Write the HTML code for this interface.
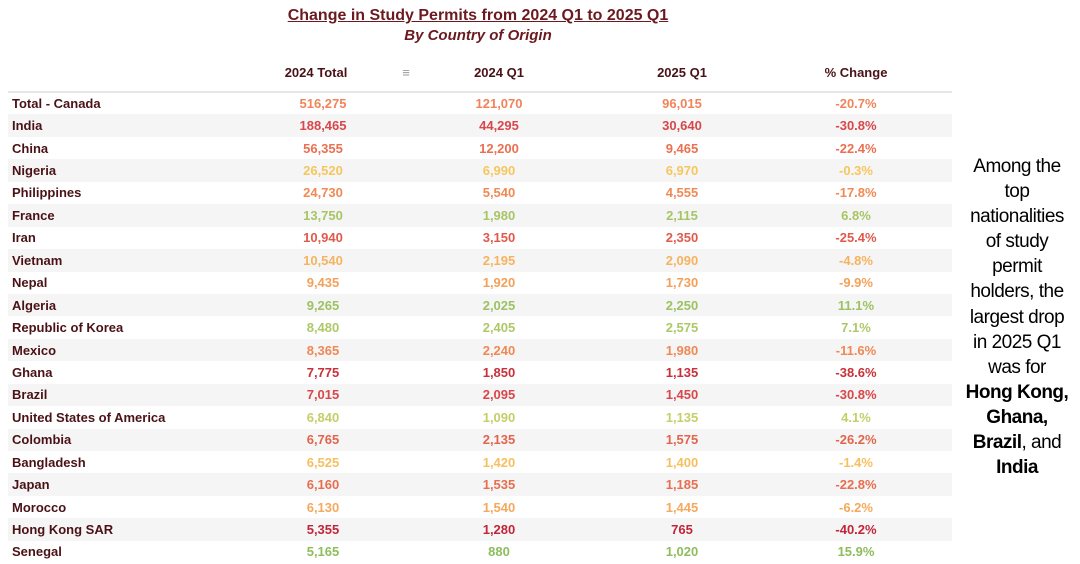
<!DOCTYPE html>
<html><head><style>
body{margin:0;width:1080px;height:564px;background:#fff;position:relative;font-family:"Liberation Sans",sans-serif;overflow:hidden}
.t{position:absolute;left:0;width:956px;text-align:center;color:#6b1a1f;font-weight:bold}
.bg{position:absolute;left:8px;top:92px;width:944px}
.bg div{height:22.45px}
.bg div:nth-child(even){background:#f5f5f5}
table{position:absolute;left:8px;top:92px;width:930px;border-collapse:collapse;font-weight:bold;font-size:13px;table-layout:fixed}
td{height:22.45px;padding:0;text-align:center;white-space:nowrap}
td:first-child{text-align:left;padding-left:4px;color:#4a1216}
.h{position:absolute;top:65px;font-size:13px;font-weight:bold;color:#4a1216;transform:translateX(-50%)}
.side{position:absolute;left:955px;width:124px;top:154px;text-align:center;font-size:19px;line-height:25.1px;color:#000;letter-spacing:-0.5px;white-space:nowrap}
</style></head><body>
<div class="t" style="top:7px;font-size:16px;text-decoration:underline">Change in Study Permits from 2024 Q1 to 2025 Q1</div>
<div class="t" style="top:27px;font-size:15px;font-style:italic">By Country of Origin</div>
<div class="h" style="left:316px">2024 Total</div>
<div class="h" style="left:406px;color:#999;font-weight:normal">&#8801;</div>
<div class="h" style="left:499px">2024 Q1</div>
<div class="h" style="left:682px">2025 Q1</div>
<div class="h" style="left:856px">% Change</div>
<div style="position:absolute;left:8px;top:91px;width:944px;height:2px;background:#e6e6e6"></div>
<div class="bg"><div></div><div></div><div></div><div></div><div></div><div></div><div></div><div></div><div></div><div></div><div></div><div></div><div></div><div></div><div></div><div></div><div></div><div></div><div></div><div></div><div></div></div>
<table>
<colgroup><col style="width:230px"><col style="width:170px"><col style="width:182px"><col style="width:184px"><col style="width:164px"></colgroup>
<tr style="color:#f0845a"><td>Total - Canada</td><td>516,275</td><td>121,070</td><td>96,015</td><td>-20.7%</td></tr>
<tr style="color:#d8474a"><td>India</td><td>188,465</td><td>44,295</td><td>30,640</td><td>-30.8%</td></tr>
<tr style="color:#ea7051"><td>China</td><td>56,355</td><td>12,200</td><td>9,465</td><td>-22.4%</td></tr>
<tr style="color:#f6c65e"><td>Nigeria</td><td>26,520</td><td>6,990</td><td>6,970</td><td>-0.3%</td></tr>
<tr style="color:#ef8a55"><td>Philippines</td><td>24,730</td><td>5,540</td><td>4,555</td><td>-17.8%</td></tr>
<tr style="color:#a8c566"><td>France</td><td>13,750</td><td>1,980</td><td>2,115</td><td>6.8%</td></tr>
<tr style="color:#e05a4c"><td>Iran</td><td>10,940</td><td>3,150</td><td>2,350</td><td>-25.4%</td></tr>
<tr style="color:#f5b35f"><td>Vietnam</td><td>10,540</td><td>2,195</td><td>2,090</td><td>-4.8%</td></tr>
<tr style="color:#f3a05a"><td>Nepal</td><td>9,435</td><td>1,920</td><td>1,730</td><td>-9.9%</td></tr>
<tr style="color:#9cc261"><td>Algeria</td><td>9,265</td><td>2,025</td><td>2,250</td><td>11.1%</td></tr>
<tr style="color:#aec867"><td>Republic of Korea</td><td>8,480</td><td>2,405</td><td>2,575</td><td>7.1%</td></tr>
<tr style="color:#ef8856"><td>Mexico</td><td>8,365</td><td>2,240</td><td>1,980</td><td>-11.6%</td></tr>
<tr style="color:#c8303a"><td>Ghana</td><td>7,775</td><td>1,850</td><td>1,135</td><td>-38.6%</td></tr>
<tr style="color:#d8474a"><td>Brazil</td><td>7,015</td><td>2,095</td><td>1,450</td><td>-30.8%</td></tr>
<tr style="color:#c4cf68"><td>United States of America</td><td>6,840</td><td>1,090</td><td>1,135</td><td>4.1%</td></tr>
<tr style="color:#e1654e"><td>Colombia</td><td>6,765</td><td>2,135</td><td>1,575</td><td>-26.2%</td></tr>
<tr style="color:#f6c05f"><td>Bangladesh</td><td>6,525</td><td>1,420</td><td>1,400</td><td>-1.4%</td></tr>
<tr style="color:#e86e50"><td>Japan</td><td>6,160</td><td>1,535</td><td>1,185</td><td>-22.8%</td></tr>
<tr style="color:#f4a95c"><td>Morocco</td><td>6,130</td><td>1,540</td><td>1,445</td><td>-6.2%</td></tr>
<tr style="color:#c0263a"><td>Hong Kong SAR</td><td>5,355</td><td>1,280</td><td>765</td><td>-40.2%</td></tr>
<tr style="color:#8dbd5c"><td>Senegal</td><td>5,165</td><td>880</td><td>1,020</td><td>15.9%</td></tr>
</table>
<div class="side">Among the<br>top<br>nationalities<br>of study<br>permit<br>holders, the<br>largest drop<br>in 2025 Q1<br>was for<br><b>Hong Kong,</b><br><b>Ghana,</b><br><b>Brazil</b>, and<br><b>India</b></div>
</body></html>
